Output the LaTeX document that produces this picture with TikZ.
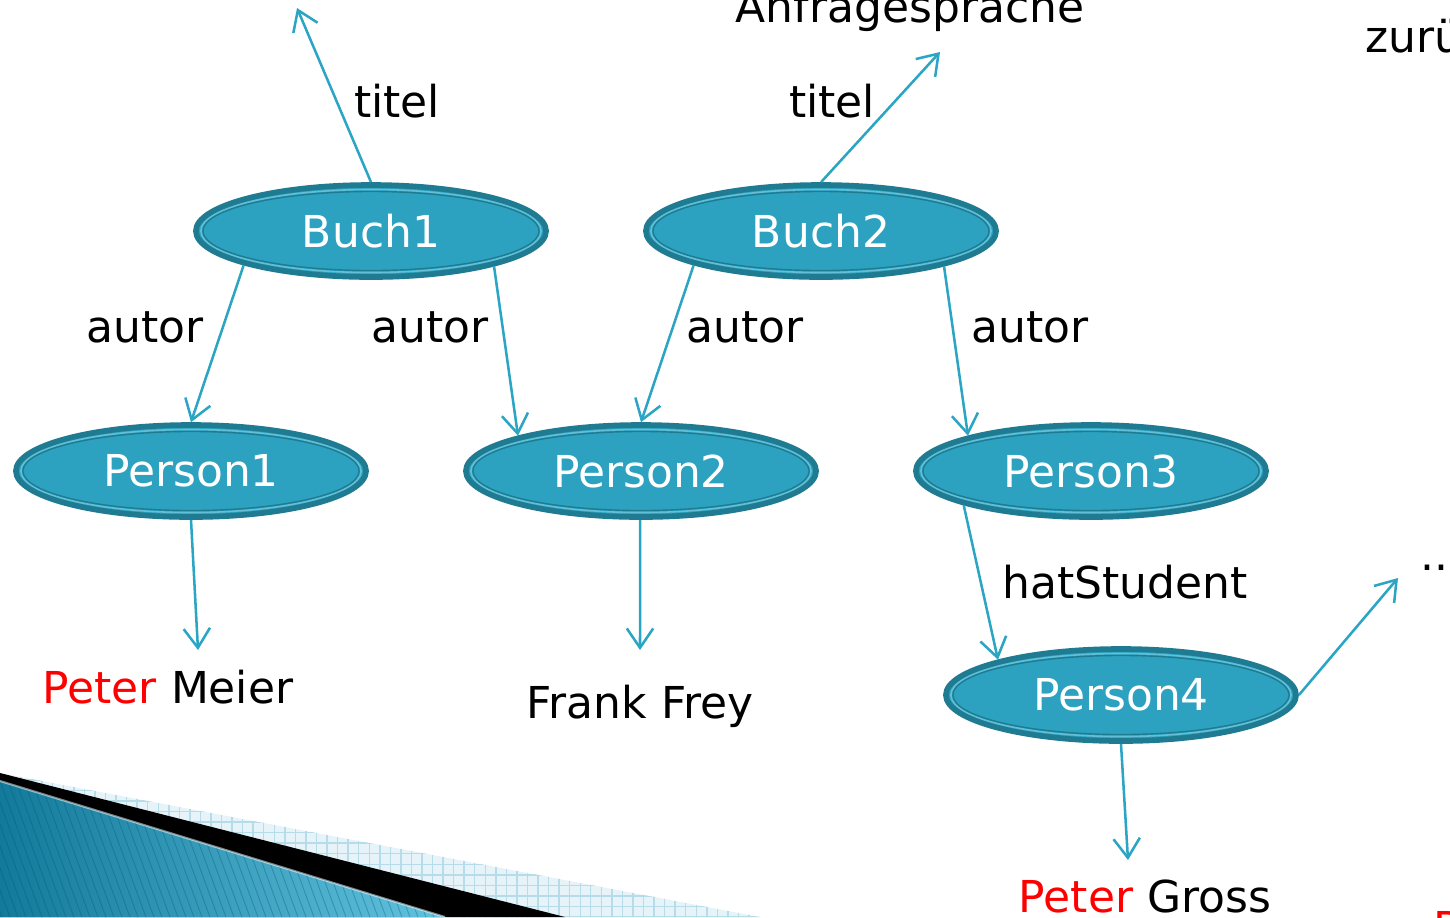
\documentclass[tikz,border=0pt]{standalone}
\usepackage{fontspec}
\setmainfont{DejaVu Sans}
\usetikzlibrary{shapes.geometric,arrows.meta,patterns}
\definecolor{nodefill}{HTML}{2CA2C0}
\definecolor{nodedark}{HTML}{1F7B92}
\definecolor{nodelight}{HTML}{62BFD6}
\definecolor{arrowc}{HTML}{2BA5C4}
\definecolor{tealdark}{HTML}{127A9B}
\definecolor{teallight}{HTML}{62C3DF}
\definecolor{hatchbg}{HTML}{E6F3F8}
\definecolor{hatchfg}{HTML}{B5DCE8}
\newcommand\myfs{\fontsize{12.5}{15}\selectfont}
\begin{document}
\begin{tikzpicture}[x=0.01cm,y=-0.01cm,
  ent/.style={ellipse, fill=nodefill, draw=nodedark, line width=1.6pt,
    minimum width=3.5cm, minimum height=0.92cm, inner sep=0pt, text=white, font=\myfs},
  lbl/.style={anchor=base, font=\myfs, inner sep=0pt, text=black},
  conn/.style={draw=arrowc, line width=0.72pt, -{Straight Barb[length=5.5pt,width=7.5pt]}}]
\useasboundingbox (0,0) rectangle (1450,917);

% decoration bottom left
\fill[hatchbg] (0,773) -- (760,917) -- (0,917) -- cycle;
\fill[pattern=grid, pattern color=hatchfg] (0,773) -- (760,917) -- (0,917) -- cycle;
\fill[black] (0,773) -- (565,917) -- (0,917) -- cycle;
\shade[left color=tealdark, right color=teallight] (0,781) -- (445,917) -- (0,917) -- cycle;
\begin{scope}
  \clip (0,781) -- (445,917) -- (0,917) -- cycle;
  \foreach \i in {-60,-52,...,460}
    \draw[tealdark!70!black, opacity=0.35, line width=0.25pt] (\i,770) -- (\i+55,920);
\end{scope}
\draw[white, opacity=0.5, line width=0.6pt] (0,781) -- (445,917);

% nodes
\node[ent] (b1) at (371,231) {Buch1};
\node[ent] (b2) at (821,231) {Buch2};
\node[ent] (p1) at (191,471) {Person1};
\node[ent] (p2) at (641,471) {Person2};
\node[ent] (p3) at (1091,471) {Person3};
\node[ent] (p4) at (1121,695) {Person4};
\foreach \n in {b1,b2,p1,p2,p3,p4}{
  \draw[nodelight, line width=0.45pt] (\n.center) ellipse [x radius=1.7cm, y radius=0.415cm];
  \draw[nodedark, line width=0.4pt] (\n.center) ellipse [x radius=1.68cm, y radius=0.395cm];
}

% free ends
\coordinate (t1) at (297,8);
\coordinate (t2) at (940,52);
\coordinate (v1) at (198,650);
\coordinate (v2) at (640,650);
\coordinate (v4) at (1128,860);
\coordinate (dd) at (1398,578);

% texts
\node[lbl] (anf) at (910,22) {Anfragesprache};
\node[lbl, anchor=base west] (zur) at (1365,52) {zurück};
\node[lbl] (lt1) at (397,117) {titel};
\node[lbl] (lt2) at (832,117) {titel};
\node[lbl] (la1) at (145,342) {autor};
\node[lbl] (la2) at (430,342) {autor};
\node[lbl] (la3) at (745,342) {autor};
\node[lbl] (la4) at (1030,342) {autor};
\node[lbl] (lhs) at (1125,598) {hatStudent};
\node[lbl, anchor=base west] (dots) at (1420,570) {...};
\node[lbl] (pm) at (168,703) {\textcolor{red}{Peter} Meier};
\node[lbl] (ff) at (640,718) {Frank Frey};
\node[lbl] (pg) at (1145,912) {\textcolor{red}{Peter} Gross};
\node[lbl, anchor=base west] (pr) at (1433,943) {\textcolor{red}{Peter}};

% connectors
\draw[conn] (b1.north) -- (t1);
\draw[conn] (b2.north) -- (t2);
\draw[conn] (b1.195.5) -- (p1.north);
\draw[conn] (b1.344.5) -- (p2.164.4);
\draw[conn] (b2.195.3) -- (p2.north);
\draw[conn] (b2.344.7) -- (p3.164.5);
\draw[conn] (p1.south) -- (v1);
\draw[conn] (p2.269) -- (v2);
\draw[conn] (p3.195.6) -- (p4.164.6);
\draw[conn] (p4.east) -- (dd);
\draw[conn] (p4.south) -- (v4);
\end{tikzpicture}
\end{document}
